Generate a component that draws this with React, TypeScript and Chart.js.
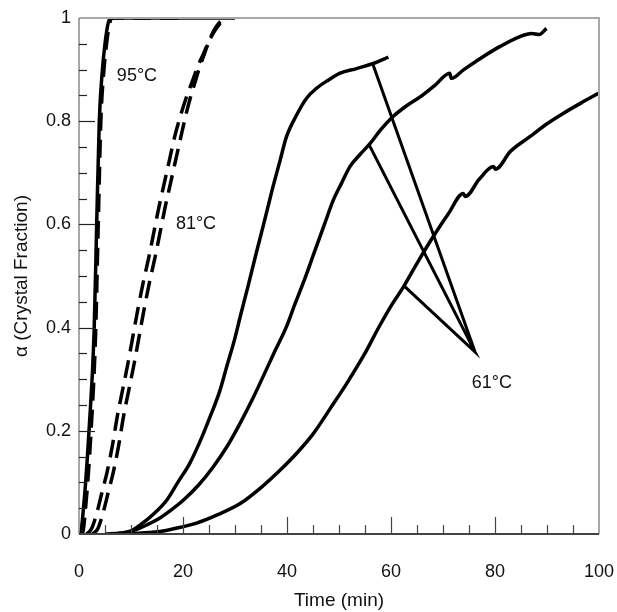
import React, { useEffect, useRef } from 'react';
import { Chart, registerables } from 'chart.js';

Chart.register(...registerables);

// 95 °C (solid and dashed replicate)
const t95a = [0, 0.2, 1.0, 1.9, 2.9, 3.4, 3.9, 4.5, 5.0, 5.5, 6.0, 30];
const a95a = [0, 0.0, 0.066, 0.196, 0.39, 0.6, 0.8, 0.9, 0.95, 0.985, 1.0, 1.0];
const t95b = [0.4, 0.6, 1.4, 2.3, 3.2, 3.7, 4.2, 4.8, 5.3, 5.8, 6.3, 20];
const a95b = [0, 0.0, 0.066, 0.196, 0.39, 0.6, 0.8, 0.9, 0.95, 0.985, 1.0, 1.0];

// 81 °C (two dashed replicates)
const t81a = [1.5, 2.4, 3.4, 4.4, 5.4, 6.4, 7.4, 8.4, 9.4, 10.4, 11.4, 12.4, 13.4, 14.4, 15.4, 16.4, 17.4, 18.4, 19.5, 20.6, 21.7, 22.8, 23.9, 25.0, 26.1, 27.2, 28.2];
const a81a = [0, 0.01, 0.04, 0.08, 0.12, 0.17, 0.23, 0.28, 0.33, 0.385, 0.44, 0.49, 0.535, 0.585, 0.635, 0.68, 0.725, 0.77, 0.81, 0.845, 0.875, 0.905, 0.93, 0.955, 0.975, 0.99, 0.998];
const t81b = [2.6, 3.6, 4.6, 5.6, 6.6, 7.6, 8.6, 9.6, 10.6, 11.6, 12.6, 13.6, 14.6, 15.6, 16.6, 17.6, 18.6, 19.6, 20.5, 21.4, 22.3, 23.2, 24.1, 25.0, 25.9, 26.9, 27.9];
const a81b = [0, 0.01, 0.04, 0.08, 0.12, 0.17, 0.23, 0.28, 0.33, 0.385, 0.44, 0.49, 0.535, 0.585, 0.635, 0.68, 0.725, 0.77, 0.81, 0.845, 0.875, 0.905, 0.93, 0.955, 0.975, 0.99, 0.998];

// 61 °C (three solid replicates)
const t61a = [5, 8, 10, 13, 15, 16.9, 19, 21.3, 23.3, 25.2, 27, 28.4, 30, 31, 32.5, 34.1, 35.5, 37.1, 38.7, 39.9, 41.9, 43.8, 45.7, 48, 50.2, 53.4, 56.6, 59.5];
const a61a = [0, 0.002, 0.006, 0.027, 0.045, 0.066, 0.1, 0.137, 0.18, 0.227, 0.275, 0.324, 0.38, 0.421, 0.48, 0.545, 0.6, 0.665, 0.725, 0.77, 0.813, 0.845, 0.864, 0.88, 0.893, 0.902, 0.912, 0.924];
const t61b = [7, 10, 12.5, 14.9, 17.5, 20.1, 23, 25.8, 28.5, 31, 33.3, 35.4, 37.7, 39.9, 41.5, 43.1, 45.4, 47.2, 48.9, 50.5, 52.1, 54, 56, 58, 60.4, 63, 65.6, 68.5, 71.3, 71.6, 74, 77.7, 81, 84.8, 87, 88.5, 89.9];
const a61b = [0, 0.005, 0.015, 0.027, 0.045, 0.066, 0.095, 0.13, 0.17, 0.215, 0.26, 0.305, 0.355, 0.402, 0.445, 0.486, 0.55, 0.6, 0.647, 0.68, 0.712, 0.735, 0.757, 0.783, 0.809, 0.83, 0.847, 0.87, 0.893, 0.883, 0.9, 0.925, 0.945, 0.964, 0.97, 0.968, 0.98];
const t61c = [8, 12, 16.2, 19.5, 22.6, 26.8, 31, 35, 38.7, 42, 45.1, 48.3, 51.5, 54.7, 57.9, 60.2, 62.4, 65.2, 68.1, 71, 73.9, 74.3, 77, 79.7, 80.1, 83, 86.7, 90, 93.1, 96.5, 99.9];
const a61c = [0, 0.002, 0.006, 0.013, 0.021, 0.038, 0.059, 0.09, 0.124, 0.158, 0.195, 0.243, 0.292, 0.345, 0.405, 0.445, 0.479, 0.528, 0.576, 0.62, 0.66, 0.654, 0.688, 0.712, 0.707, 0.742, 0.77, 0.795, 0.815, 0.835, 0.854];

// leader lines for the 61 °C label: curve A -> apex -> curve B -> apex -> curve C
const leaderT = [56.5, 76.15, 55.8, 76.15, 62.5];
const leaderA = [0.911, 0.353, 0.754, 0.353, 0.481];

// text labels
const labelText = ['95°C', '81°C', '61°C'];
const labelT = [11.15, 22.5, 79.4];
const labelA = [0.888, 0.6, 0.293];

const xTicks = [0, 20, 40, 60, 80, 100];
const yTicks = [0, 0.2, 0.4, 0.6, 0.8, 1];

const FONT = "'Liberation Sans', Arial, Helvetica, sans-serif";

const pts = (xs: number[], ys: number[]) => xs.map((x, i) => ({ x, y: ys[i] }));

const framePlugin = {
  id: 'frameTicks',
  afterDatasetsDraw(chart: any) {
    const { ctx, chartArea: ca, scales } = chart;
    const xs = scales.x;
    const ys = scales.y;
    ctx.save();
    // frame top/right
    ctx.strokeStyle = '#a8a8a8';
    ctx.lineWidth = 2;
    ctx.beginPath();
    ctx.moveTo(ca.left, ca.top);
    ctx.lineTo(ca.right, ca.top);
    ctx.lineTo(ca.right, ca.bottom);
    ctx.stroke();
    // left axis line
    ctx.strokeStyle = '#8a8a8a';
    ctx.lineWidth = 1.5;
    ctx.beginPath();
    ctx.moveTo(ca.left, ca.top);
    ctx.lineTo(ca.left, ca.bottom);
    ctx.stroke();
    // bottom axis line
    ctx.strokeStyle = '#444';
    ctx.lineWidth = 2;
    ctx.beginPath();
    ctx.moveTo(ca.left, ca.bottom);
    ctx.lineTo(ca.right, ca.bottom);
    ctx.stroke();
    // x ticks (inside)
    ctx.strokeStyle = '#444';
    ctx.lineWidth = 1.2;
    for (let v = 5; v < 100; v += 5) {
      const px = Math.round(xs.getPixelForValue(v)) + 0.5;
      const len = v % 20 === 0 ? 17 : 9;
      ctx.beginPath();
      ctx.moveTo(px, ca.bottom);
      ctx.lineTo(px, ca.bottom - len);
      ctx.stroke();
    }
    // y ticks (inside)
    ctx.strokeStyle = '#222';
    for (let i = 1; i < 20; i++) {
      const v = i * 0.05;
      const py = Math.round(ys.getPixelForValue(v)) + 0.5;
      const len = i % 4 === 0 ? 16 : 8;
      ctx.beginPath();
      ctx.moveTo(ca.left, py);
      ctx.lineTo(ca.left + len, py);
      ctx.stroke();
    }
    // labels
    ctx.fillStyle = '#111';
    ctx.font = `18px ${FONT}`;
    ctx.textAlign = 'center';
    ctx.textBaseline = 'middle';
    labelText.forEach((txt, i) => {
      ctx.fillText(txt, xs.getPixelForValue(labelT[i]), ys.getPixelForValue(labelA[i]));
    });
    ctx.restore();
  },
};

export default function App() {
  const ref = useRef<HTMLCanvasElement | null>(null);
  useEffect(() => {
    document.body.style.margin = '0';
    if (!ref.current) return;
    const solid = (data: any) => ({
      data,
      borderColor: '#000',
      borderWidth: 3.5,
      pointRadius: 0,
      showLine: true,
      fill: false,
      cubicInterpolationMode: 'monotone' as const,
    });
    const dashed = (data: any) => ({ ...solid(data), borderDash: [18, 9], borderWidth: 3.5 });
    const chart = new Chart(ref.current, {
      type: 'scatter',
      data: {
        datasets: [
          solid(pts(t95a, a95a)),
          dashed(pts(t95b, a95b)),
          dashed(pts(t81a, a81a)),
          dashed(pts(t81b, a81b)),
          solid(pts(t61a, a61a)),
          solid(pts(t61b, a61b)),
          solid(pts(t61c, a61c)),
          {
            data: pts(leaderT, leaderA),
            borderColor: '#000',
            borderWidth: 3,
            pointRadius: 0,
            showLine: true,
            fill: false,
            tension: 0,
            borderJoinStyle: 'miter' as const,
          },
        ],
      },
      options: {
        animation: false,
        responsive: false,
        maintainAspectRatio: false,
        layout: { autoPadding: false, padding: { left: 0, top: 18, right: 18, bottom: 0 } },
        plugins: { legend: { display: false }, tooltip: { enabled: false } },
        scales: {
          x: {
            type: 'linear',
            min: 0,
            max: 100,
            afterFit: (s: any) => { s.height = 78; s.paddingLeft = 0; s.paddingRight = 0; },
            afterBuildTicks: (s: any) => { s.ticks = xTicks.map((v) => ({ value: v })); },
            grid: { display: false, drawTicks: false },
            border: { display: false },
            ticks: { color: '#111', padding: 27, font: { size: 18, family: FONT } },
            title: { display: true, text: 'Time (min)', color: '#111', font: { size: 19, family: FONT }, padding: { top: 0, bottom: 0 } },
          },
          y: {
            type: 'linear',
            min: 0,
            max: 1,
            afterFit: (s: any) => { s.width = 79; s.paddingTop = 0; s.paddingBottom = 0; },
            afterBuildTicks: (s: any) => { s.ticks = yTicks.map((v) => ({ value: v })); },
            grid: { display: false, drawTicks: false },
            border: { display: false },
            ticks: { color: '#111', padding: 8, font: { size: 18, family: FONT }, callback: (v: any) => String(v) },
            title: { display: true, text: 'α (Crystal Fraction)', color: '#111', font: { size: 19, family: FONT }, padding: { top: 10, bottom: 0 } },
          },
        },
      },
      plugins: [framePlugin],
    });
    return () => chart.destroy();
  }, []);
  return (
    <div style={{ width: 617, height: 612 }}>
      <canvas ref={ref} width={617} height={612} style={{ display: 'block', width: 617, height: 612 }} />
    </div>
  );
}
